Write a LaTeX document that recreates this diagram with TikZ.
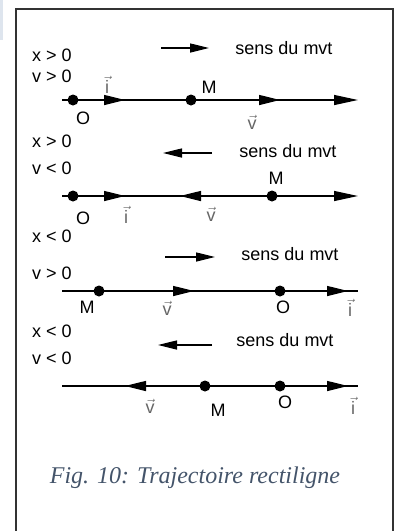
\documentclass[tikz,border=0pt]{standalone}
\usepackage{fontspec}
\setmainfont{Liberation Serif}
\setsansfont{Liberation Sans}
\usetikzlibrary{arrows.meta}
\definecolor{capblue}{RGB}{68,84,106}
\definecolor{sidebar}{RGB}{222,229,238}

\begin{document}
\begin{tikzpicture}[x=1pt, y=-1pt,
  txt/.style={font=\sffamily\fontsize{18}{20}\selectfont, inner sep=0pt},
  vlbl/.style={txt, text=black!60},
  dot/.style={circle, fill=black, inner sep=0pt, minimum size=11pt},
  axis/.style={line width=1.3pt},
  vec/.style={line width=1.3pt, -{Triangle[length=21pt, width=10pt]}},
  move/.style={line width=1.3pt, -{Triangle[length=19pt, width=9pt]}}
]
\useasboundingbox (0,0) rectangle (398,531);
\fill[sidebar] (0,0) rectangle (3,40);
\draw[line width=1.4pt, black!80] (16,531) -- (16,9) -- (393,9) -- (393,531);

% ligne 1 : x > 0, v > 0
\node[txt, anchor=west] (xa) at (32,55) {x > 0};
\node[txt, anchor=west] (va) at (32,76) {v > 0};
\coordinate (ma1) at (161,48);
\coordinate (ma2) at (209,48);
\draw[move] (ma1) -- (ma2);
\node[txt] (sa) at (284,48) {sens du mvt};
\coordinate (la) at (62,100);
\coordinate (ra) at (358,100);
\coordinate (ia) at (125,100);
\coordinate (wa) at (280,100);
\draw[axis, -{Triangle[length=24pt, width=10pt]}] (la) -- (ra);
\node[dot] (Oa) at (73,100) {};
\node[dot] (Ma) at (191,100) {};
\draw[vec] (Oa) -- (ia);
\draw[vec] (Ma) -- (wa);
\node[vlbl] (ila) at (107,85) {$\vec{\hbox{i}}$};
\node[txt] (Mla) at (209,87) {M};
\node[txt] (Ola) at (83,118) {O};
\node[vlbl] (vla) at (252,122) {$\vec{\hbox{v}}$};

% ligne 2 : x > 0, v < 0
\node[txt, anchor=west] (xb) at (32,141) {x > 0};
\node[txt, anchor=west] (vb) at (32,168) {v < 0};
\coordinate (mb1) at (212,153);
\coordinate (mb2) at (163,153);
\draw[move] (mb1) -- (mb2);
\node[txt] (sb) at (288,151) {sens du mvt};
\coordinate (lb) at (62,196);
\coordinate (rb) at (358,196);
\coordinate (ib) at (125,196);
\coordinate (wb) at (180,196);
\draw[axis, -{Triangle[length=24pt, width=10pt]}] (lb) -- (rb);
\node[dot] (Ob) at (73,196) {};
\node[dot] (Mb) at (272,196) {};
\draw[vec] (Ob) -- (ib);
\draw[vec] (Mb) -- (wb);
\node[txt] (Mlb) at (276,178) {M};
\node[txt] (Olb) at (83,218) {O};
\node[vlbl] (ilb) at (126,215) {$\vec{\hbox{i}}$};
\node[vlbl] (vlb) at (211,214) {$\vec{\hbox{v}}$};

% ligne 3 : x < 0, v > 0
\node[txt, anchor=west] (xc) at (32,236) {x < 0};
\node[txt, anchor=west] (vc) at (32,273) {v > 0};
\coordinate (mc1) at (165,257);
\coordinate (mc2) at (215,257);
\draw[move] (mc1) -- (mc2);
\node[txt] (sc) at (290,254) {sens du mvt};
\coordinate (lc) at (62,291);
\coordinate (rc) at (358,291);
\coordinate (wc) at (194,291);
\coordinate (ic) at (348,291);
\draw[axis] (lc) -- (rc);
\node[dot] (Mc) at (99,291) {};
\node[dot] (Oc) at (280,291) {};
\draw[vec] (Mc) -- (wc);
\draw[vec] (Oc) -- (ic);
\node[txt] (Mlc) at (87,307) {M};
\node[vlbl] (vlc) at (167,308) {$\vec{\hbox{v}}$};
\node[txt] (Olc) at (283,307) {O};
\node[vlbl] (ilc) at (350,308) {$\vec{\hbox{i}}$};

% ligne 4 : x < 0, v < 0
\node[txt, anchor=west] (xd) at (32,331) {x < 0};
\node[txt, anchor=west] (vd) at (32,358) {v < 0};
\coordinate (md1) at (212,345);
\coordinate (md2) at (158,345);
\draw[move] (md1) -- (md2);
\node[txt] (sd) at (285,340) {sens du mvt};
\coordinate (ld) at (62,386);
\coordinate (rd) at (358,386);
\coordinate (wd) at (125,386);
\coordinate (id) at (348,386);
\draw[axis] (ld) -- (rd);
\node[dot] (Md) at (205,386) {};
\node[dot] (Od) at (280,386) {};
\draw[vec] (Md) -- (wd);
\draw[vec] (Od) -- (id);
\node[vlbl] (vld) at (150,406) {$\vec{\hbox{v}}$};
\node[txt] (Mld) at (218,410) {M};
\node[txt] (Old) at (285,402) {O};
\node[vlbl] (ild) at (353,406) {$\vec{\hbox{i}}$};

\node[text=capblue, font=\itshape\fontsize{24}{28}\selectfont] (cap) at (195,478) {Fig. 10: Trajectoire rectiligne};
\end{tikzpicture}
\end{document}
